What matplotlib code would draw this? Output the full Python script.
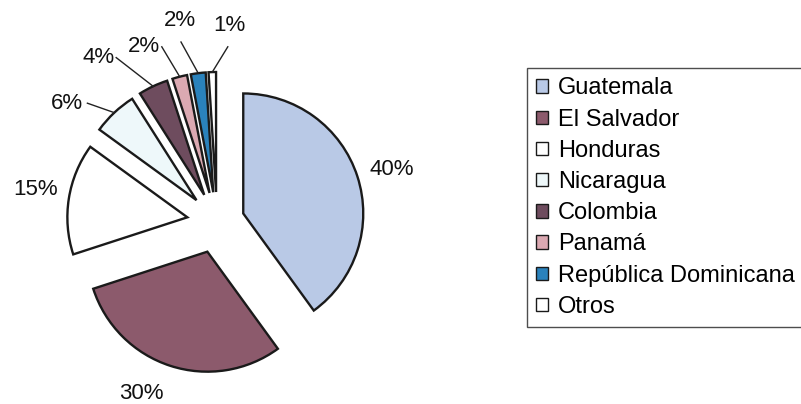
import numpy as np
import matplotlib.pyplot as plt

plt.rcParams['font.family'] = ['Liberation Sans', 'DejaVu Sans']

# data
countries = ['Guatemala', 'El Salvador', 'Honduras', 'Nicaragua',
             'Colombia', 'Panamá', 'República Dominicana', 'Otros']
shares = [40, 30, 15, 6, 4, 2, 2, 1]
pct_labels = ['40%', '30%', '15%', '6%', '4%', '2%', '2%', '1%']

colors = ['#b9c9e6', '#8c5a6c', '#ffffff', '#eef8fa',
          '#6e4c5e', '#dba9b2', '#2a82bc', '#ffffff']

# label placement (in pie-radius units) and which ones get a leader line
label_pos = [(1.46, 0.44), (-0.63, -1.43), (-1.51, 0.27), (-1.25, 0.99),
             (-0.99, 1.37), (-0.61, 1.46), (-0.31, 1.68), (0.1, 1.64)]
leader = [False, False, False, True, True, True, True, True]
leader_start = [None, None, None, (-1.08, 0.99), (-0.84, 1.37),
                (-0.46, 1.46), (-0.3, 1.5), (0.09, 1.46)]

px = 120.0  # pixels per pie radius
cx, cy = 217, 222  # pie centre in pixels (from top-left)

fig = plt.figure(figsize=(8.01, 4.04), dpi=100)
ax = fig.add_axes([0, 0, 1, 1])

wedges, _ = ax.pie(shares, colors=colors, startangle=90, counterclock=False,
                   explode=[0.23, 0.26, 0.25, 0.25, 0.25, 0.25, 0.25, 0.25],
                   wedgeprops=dict(edgecolor='#1a1a1a', linewidth=1.7))

for i, w in enumerate(wedges):
    x, y = label_pos[i]
    ax.text(x, y, pct_labels[i], fontsize=16, ha='center', va='center', color='#111111')
    if leader[i]:
        th = np.deg2rad((w.theta1 + w.theta2) / 2)
        ex, ey = 1.25 * np.cos(th), 1.25 * np.sin(th)
        sx, sy = leader_start[i]
        ax.plot([sx, ex], [sy, ey], color='#222222', lw=1.0)

ax.set_xlim(-cx / px, (801 - cx) / px)
ax.set_ylim(-(404 - cy) / px, cy / px)
ax.set_aspect('auto')
ax.axis('off')

leg = fig.legend(wedges, countries, loc='upper left',
                 bbox_to_anchor=(527 / 801, 1 - 68 / 404),
                 fontsize=17, frameon=True, fancybox=False, edgecolor='#222222',
                 handlelength=0.5, handleheight=0.5, handletextpad=0.4,
                 labelspacing=0.39, borderpad=0.4, borderaxespad=0)
leg.get_frame().set_linewidth(1.0)
for h in leg.legend_handles:
    h.set_linewidth(1.0)

fig.savefig('out.png', dpi=100, facecolor='white')
